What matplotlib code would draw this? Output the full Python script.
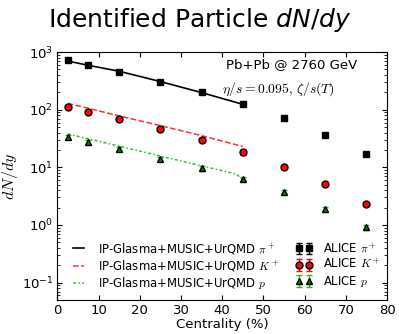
import matplotlib
matplotlib.use("Agg")
import matplotlib.pyplot as plt
import numpy as np

plt.rcParams['mathtext.fontset'] = 'cm'
plt.rcParams['xtick.direction'] = 'in'
plt.rcParams['ytick.direction'] = 'in'

# ALICE data
cent = [2.5, 7.5, 15, 25, 35, 45, 55, 65, 75]
pi_data = [733, 606, 455, 307, 201, 124, 72, 37, 17.2]
k_data = [110, 92, 68, 46, 30, 18.2, 10.1, 5.1, 2.3]
p_data = [34, 27.7, 21, 14.1, 9.6, 6.2, 3.7, 1.9, 0.91]
pi_err = [54, 42, 31, 20, 13, 8, 4, 2, 1]
k_err = [9, 7, 5, 4, 2.5, 1.5, 0.8, 0.4, 0.2]
p_err = [3, 2.3, 1.7, 1.1, 0.8, 0.5, 0.3, 0.16, 0.08]

# IP-Glasma+MUSIC+UrQMD
cent_model = [2.5, 7.5, 15, 25, 35, 45]
pi_model = [700, 590, 465, 308, 198, 124]
k_model = [129, 106, 78, 53, 35.5, 23]
cent_model_p = [2.5, 7.5, 15, 25, 35, 43.5, 45]
p_model = [38, 31.3, 23.3, 15.7, 10.6, 7.6, 6.1]

fig = plt.figure(figsize=(3.99, 3.34), dpi=100)
ax = fig.add_axes([0.144, 0.102, 0.826, 0.742])

ax.plot(cent_model, pi_model, 'k-', lw=1.2, label=r'IP-Glasma+MUSIC+UrQMD $\pi^+$')
ax.plot(cent_model, k_model, '--', color='#ff3030', lw=1.1, label=r'IP-Glasma+MUSIC+UrQMD $K^+$')
ax.plot(cent_model_p, p_model, color='#30c030', lw=1.1, linestyle=(0, (2, 1.5, 1, 1.5)),
        label=r'IP-Glasma+MUSIC+UrQMD $p$')

ax.errorbar(cent, pi_data, yerr=pi_err, fmt='s', color='k', mfc='k', mec='k', ms=5,
            capsize=2, elinewidth=1, label=r'ALICE $\pi^+$')
ax.errorbar(cent, k_data, yerr=k_err, fmt='o', ecolor='red', mfc='red', mec='k', ms=5,
            capsize=2, elinewidth=1, label=r'ALICE $K^+$')
ax.errorbar(cent, p_data, yerr=p_err, fmt='^', ecolor='#22bb22', mfc='green', mec='k', ms=5,
            capsize=2, elinewidth=1, label=r'ALICE $p$')

ax.set_yscale('log')
ax.set_xlim(0, 80)
ax.set_ylim(0.05, 1000)
ax.tick_params(which='both', top=True, right=True, labelsize=9.5, pad=3)
ax.set_xlabel('Centrality (%)', fontsize=9.5, labelpad=1)
ax.set_ylabel(r'$dN/dy$', fontsize=11.5, labelpad=1)

ax.text(0.91, 0.948, 'Pb+Pb @ 2760 GeV', transform=ax.transAxes, ha='right', va='center', fontsize=9.5)
ax.text(0.498, 0.85, r'$\eta/s=0.095,\,\zeta/s(T)$', transform=ax.transAxes, ha='left', va='center', fontsize=9.8)

ax.legend(loc='lower left', ncol=2, frameon=False, fontsize=8.4, numpoints=2,
          bbox_to_anchor=(0.038, 0.035), borderaxespad=0, borderpad=0,
          columnspacing=1.4, handlelength=1.5, handletextpad=0.9, labelspacing=0.18)

fig.text(0.5, 0.94, r'Identified Particle $dN/dy$', fontsize=18, ha='center', va='center',
         math_fontfamily='dejavusans')

fig.savefig('out.png', dpi=100)
